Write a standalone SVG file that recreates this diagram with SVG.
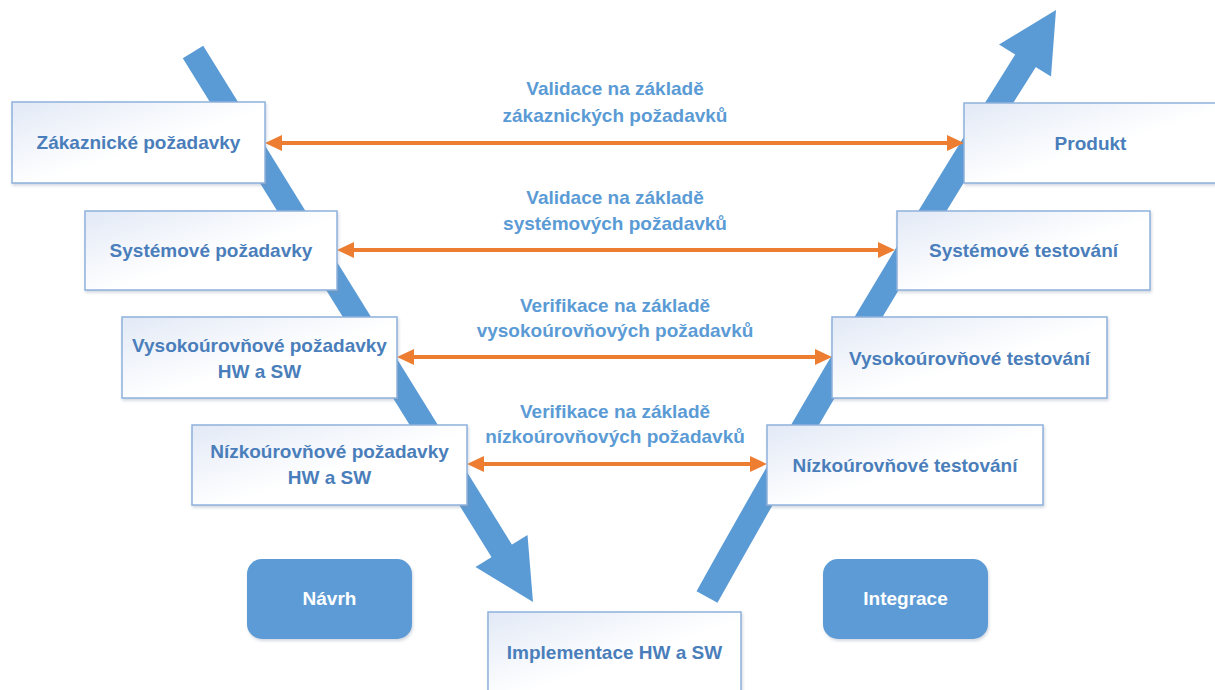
<svg xmlns="http://www.w3.org/2000/svg" width="1215" height="690" viewBox="0 0 1215 690">
<defs>
<linearGradient id="boxg" x1="0" y1="0" x2="1" y2="1">
<stop offset="0" stop-color="#e2e9f6"/>
<stop offset="0.55" stop-color="#ffffff"/>
<stop offset="1" stop-color="#ffffff"/>
</linearGradient>
<filter id="sh" x="-10%" y="-10%" width="120%" height="130%">
<feDropShadow dx="1" dy="2" stdDeviation="1.5" flood-color="#7f8fa6" flood-opacity="0.35"/>
</filter>
<marker id="oh" markerUnits="userSpaceOnUse" markerWidth="18" markerHeight="18" refX="7" refY="8" orient="auto-start-reverse">
<path d="M0,0 L17,8 L0,16 Z" fill="#ed7d31"/>
</marker>
</defs>
<style>
.box{fill:url(#boxg);stroke:#8eb1dc;stroke-width:1.5;}
.nt{font-family:"Liberation Sans",Arial,sans-serif;font-weight:bold;font-size:19px;fill:#4a7ebb;text-anchor:middle;}
.lt{font-family:"Liberation Sans",Arial,sans-serif;font-weight:bold;font-size:19px;fill:#5b9bd5;text-anchor:middle;}
.pt{font-family:"Liberation Sans",Arial,sans-serif;font-weight:bold;font-size:19px;fill:#ffffff;text-anchor:middle;}
.phase{fill:#5b9bd5;}
.shaft{fill:none;stroke:#5b9bd5;stroke-width:24;stroke-linecap:butt;}
.head{fill:#5b9bd5;}
.oc{stroke:#ed7d31;stroke-width:4;fill:none;marker-start:url(#oh);marker-end:url(#oh);}
</style>
<rect width="1215" height="690" fill="#ffffff"/>

<g id="big-arrows">
<path class="shaft" d="M193,52 L503,553"/>
<polygon class="head" points="533,602 527.5,535 475.5,567"/>
<path class="shaft" d="M707,597 Q850,340 1026,60"/>
<polygon class="head" points="1056,10 999,44.5 1051,76.5"/>
</g>

<g id="connectors">
<line class="oc" x1="275" y1="143" x2="954" y2="143"/>
<line class="oc" x1="347" y1="250" x2="885" y2="250"/>
<line class="oc" x1="407" y1="357" x2="822" y2="357"/>
<line class="oc" x1="477" y1="464" x2="757" y2="464"/>
</g>

<g id="labels">
<text class="lt" x="615" y="95">Validace na základě</text>
<text class="lt" x="615" y="122">zákaznických požadavků</text>
<text class="lt" x="615" y="204">Validace na základě</text>
<text class="lt" x="615" y="230">systémových požadavků</text>
<text class="lt" x="615" y="312">Verifikace na základě</text>
<text class="lt" x="615" y="337">vysokoúrovňových požadavků</text>
<text class="lt" x="615" y="418">Verifikace na základě</text>
<text class="lt" x="615" y="443">nízkoúrovňových požadavků</text>
</g>

<g id="n-zakaznicke">
<rect class="box" x="12" y="102" width="253" height="81" filter="url(#sh)"/>
<text class="nt" x="138.5" y="149">Zákaznické požadavky</text>
</g>
<g id="n-produkt">
<rect class="box" x="964" y="103" width="253" height="80" filter="url(#sh)"/>
<text class="nt" x="1090.5" y="150">Produkt</text>
</g>
<g id="n-systemove-pozadavky">
<rect class="box" x="85" y="211" width="252" height="79" filter="url(#sh)"/>
<text class="nt" x="211" y="257">Systémové požadavky</text>
</g>
<g id="n-systemove-testovani">
<rect class="box" x="897" y="211" width="253" height="79" filter="url(#sh)"/>
<text class="nt" x="1023.5" y="257">Systémové testování</text>
</g>
<g id="n-vysokourovnove-pozadavky">
<rect class="box" x="122" y="317" width="275" height="81" filter="url(#sh)"/>
<text class="nt" x="259.5" y="352">Vysokoúrovňové požadavky</text>
<text class="nt" x="259.5" y="378">HW a SW</text>
</g>
<g id="n-vysokourovnove-testovani">
<rect class="box" x="832" y="317" width="275" height="81" filter="url(#sh)"/>
<text class="nt" x="969.5" y="365">Vysokoúrovňové testování</text>
</g>
<g id="n-nizkourovnove-pozadavky">
<rect class="box" x="192" y="425" width="275" height="80" filter="url(#sh)"/>
<text class="nt" x="329.5" y="458">Nízkoúrovňové požadavky</text>
<text class="nt" x="329.5" y="484">HW a SW</text>
</g>
<g id="n-nizkourovnove-testovani">
<rect class="box" x="767" y="425" width="276" height="80" filter="url(#sh)"/>
<text class="nt" x="905" y="472">Nízkoúrovňové testování</text>
</g>
<g id="n-implementace">
<rect class="box" x="488" y="612" width="253" height="84" filter="url(#sh)"/>
<text class="nt" x="614.5" y="659">Implementace HW a SW</text>
</g>
<g id="n-navrh">
<rect class="phase" x="247" y="559" width="165" height="80" rx="15" filter="url(#sh)"/>
<text class="pt" x="329.5" y="605">Návrh</text>
</g>
<g id="n-integrace">
<rect class="phase" x="823" y="559" width="165" height="80" rx="15" filter="url(#sh)"/>
<text class="pt" x="905.5" y="605">Integrace</text>
</g>
</svg>
